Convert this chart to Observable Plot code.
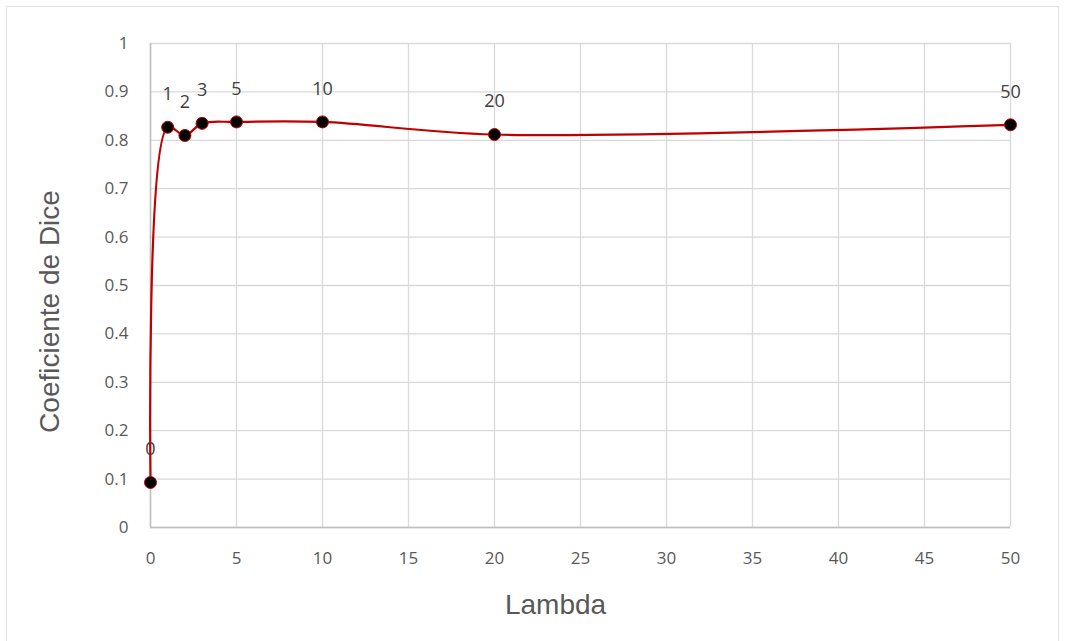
<!DOCTYPE html>
<html><head><meta charset="utf-8">
<script src="https://cdn.jsdelivr.net/npm/d3@7"></script>
<script src="https://cdn.jsdelivr.net/npm/@observablehq/plot@0.6"></script>
<style>
html,body{margin:0;padding:0;background:#fff;}
#wrap{position:relative;width:1065px;height:641px;}
#frame{position:absolute;left:6px;top:6px;width:1053px;height:640px;border:1.5px solid #e3e3e3;box-sizing:border-box;}
</style></head><body>
<div id="wrap"><div id="frame"></div><div id="chart"></div></div>
<script>
const lambdas = [0, 1, 2, 3, 5, 10, 20, 50];
const dice = [0.093, 0.827, 0.810, 0.835, 0.838, 0.838, 0.812, 0.832];
const xTicks = [0,5,10,15,20,25,30,35,40,45,50];
const yTicks = [0,0.1,0.2,0.3,0.4,0.5,0.6,0.7,0.8,0.9,1];

const data = lambdas.map((l,i)=>({lambda:l, dice:dice[i]}));
const tickFont = "Open Sans, Lato, sans-serif";
const fmt = d => String(+d.toFixed(1));

const chart = Plot.plot({
  width: 1065, height: 641,
  marginLeft: 150, marginRight: 55, marginTop: 43, marginBottom: 114,
  style: {fontFamily: tickFont, fontSize: "17px", color: "#595959", background: "transparent"},
  x: {domain: [0,50], label: null},
  y: {domain: [0,1], label: null},
  marks: [
    Plot.gridX(xTicks, {stroke: "#d9d9d9", strokeOpacity: 1, strokeWidth: 1.3}),
    Plot.gridY(yTicks, {stroke: "#d9d9d9", strokeOpacity: 1, strokeWidth: 1.3}),
    Plot.ruleX([0], {stroke: "#bfbfbf", strokeWidth: 1.5}),
    Plot.ruleY([0], {stroke: "#bfbfbf", strokeWidth: 1.5}),
    Plot.axisX(xTicks, {tickSize: 0, tickPadding: 24, fontSize: 17, fill: "#595959", label: null}),
    Plot.axisY(yTicks, {tickSize: 0, tickPadding: 22, fontSize: 17, fill: "#595959", label: null, tickFormat: fmt}),
    Plot.line(data, {x: "lambda", y: "dice", curve: "catmull-rom", stroke: "#c00000", strokeWidth: 2.2}),
    Plot.dot(data, {x: "lambda", y: "dice", r: 6, fill: "#000", stroke: "#c00000", strokeWidth: 1}),
    Plot.text(data, {x: "lambda", y: "dice", text: d => String(d.lambda), dy: -33, fontSize: 18, fill: "#404040"}),
    Plot.text(["Lambda"], {frameAnchor: "bottom", dx: -25, dy: 86, fontSize: 28, fill: "#595959", fontFamily: "Liberation Sans, Arial, sans-serif"}),
    Plot.text(["Coeficiente de Dice"], {frameAnchor: "left", textAnchor: "middle", dx: -100, dy: 26, rotate: -90, fontSize: 28, fill: "#595959", fontFamily: "Liberation Sans, Arial, sans-serif"})
  ]
});
document.getElementById("chart").appendChild(chart);
</script>
</body></html>
